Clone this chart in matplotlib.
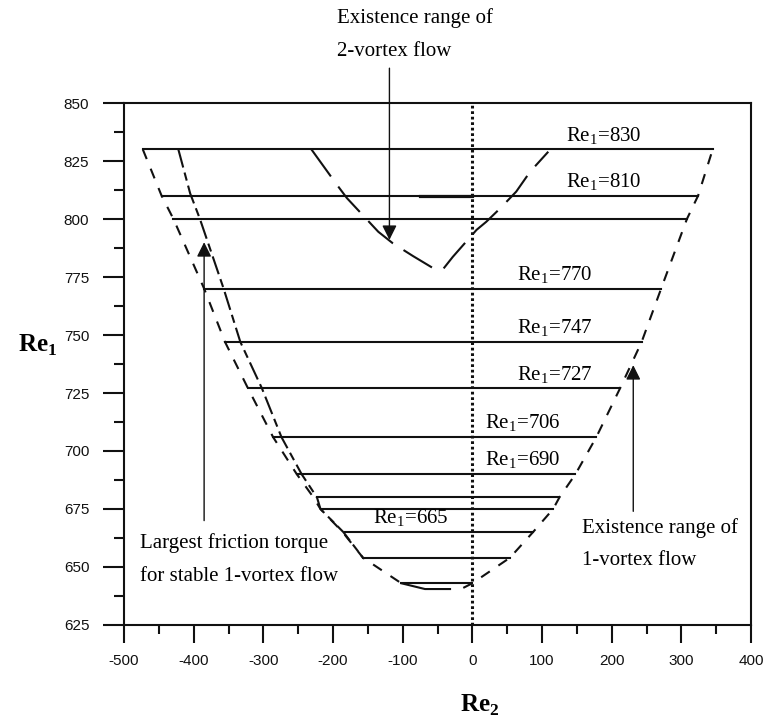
import numpy as np
import matplotlib
matplotlib.use("Agg")
import matplotlib.pyplot as plt
from matplotlib.ticker import MultipleLocator

plt.rcParams['font.family'] = ['Liberation Serif', 'DejaVu Serif']
plt.rcParams['mathtext.fontset'] = 'custom'
plt.rcParams['mathtext.rm'] = 'Liberation Serif'
plt.rcParams['mathtext.bf'] = 'Liberation Serif:bold'
plt.rcParams['axes.unicode_minus'] = False

# Re1 levels and where each horizontal line starts / ends in Re2
levels = [830, 810, 800, 770, 747, 727, 706, 690, 680, 675, 665, 654, 643]
left_end = [-473, -446, -429, -385, -355, -322, -286, -252, -223, -216, -183, -157, -102]
right_end = [345, 324, 308, 271, 243, 212, 178, 148, 125, 116, 87, 54, 0]
labelled = {830: 135, 810: 135, 770: 64, 747: 64, 727: 64, 706: 18, 690: 18, 665: -142}

# little hook at the bottom
hook_x = [-102, -68, -32]
hook_y = [643, 640.5, 640.5]

# existence range of 1-vortex flow (dashed boundary)
outer_left_x = [-473, -446, -429, -385, -355, -322, -286, -252, -228, -218, -186, -157, -132, -102]
outer_left_y = [830, 810, 800, 770, 747, 727, 706, 690, 680, 675, 665, 654, 649, 643]
outer_right_x = [-13, 0, 54, 87, 116, 125, 148, 178, 212, 243, 271, 308, 324, 345]
outer_right_y = [641, 643, 654, 665, 675, 680, 690, 706, 727, 747, 770, 800, 810, 830]

# largest friction torque for stable 1-vortex flow
fric_x = [-422, -405, -391, -357, -333, -302, -274, -245, -223, -218, -185, -157]
fric_y = [830, 811, 800, 770, 747, 727, 706, 690, 680, 675, 665, 654]

# existence range of 2-vortex flow
two_x = [-231, -195, -180, -135, -114, -85, -54, -42, -28, 6, 20, 40, 63, 83, 109]
two_y = [830, 815, 809, 794.5, 789.5, 784, 778.4, 778.4, 783.7, 795.3, 798.8, 804.6, 811.8, 820.4, 829]

fig = plt.figure(figsize=(7.64, 7.17), dpi=100)
ax = fig.add_axes([124/764, 1-625/717, (751-124)/764, (625-103)/717])

k = '#111111'
for lv, x0, x1 in zip(levels, left_end, right_end):
    ax.plot([x0, x1], [lv, lv], color=k, lw=1.5)
ax.plot([-75, 0], [810, 810], color=k, lw=2.3)
ax.plot(hook_x, hook_y, color=k, lw=1.5)

ax.plot(outer_left_x, outer_left_y, color=k, lw=1.5, dashes=(5, 5))
ax.plot(outer_right_x, outer_right_y, color=k, lw=1.5, dashes=(5, 5))
ax.plot(fric_x, fric_y, color=k, lw=1.5, dashes=(9, 2.5, 4, 2.5))
ax.plot(two_x, two_y, color=k, lw=1.5, dashes=(16, 6))

ax.axvline(0, color=k, lw=2.2, dashes=(0.9, 0.9))

for lv, xl in labelled.items():
    ax.annotate(r'Re$_{1}$=%d' % lv, (xl, lv), xytext=(0, 2), textcoords='offset points',
                fontsize=15, va='bottom', ha='left')

arrow = dict(arrowstyle='-|>', color=k, lw=1.0, mutation_scale=22, shrinkA=0, shrinkB=0)
ax.annotate('', xy=(-119, 791), xytext=(-119, 865), arrowprops=arrow, annotation_clip=False)
ax.annotate('', xy=(-385, 790), xytext=(-385, 670), arrowprops=arrow)
ax.annotate('', xy=(231, 737), xytext=(231, 674), arrowprops=arrow)

ax.text(-194, 886.5, 'Existence range of', fontsize=15, va='center', clip_on=False)
ax.text(-194, 872.3, '2-vortex flow', fontsize=15, va='center', clip_on=False)
ax.text(-477, 660.3, 'Largest friction torque', fontsize=15, va='center')
ax.text(-477, 645.7, 'for stable 1-vortex flow', fontsize=15, va='center')
ax.text(158, 666.8, 'Existence range of', fontsize=15, va='center')
ax.text(158, 653, '1-vortex flow', fontsize=15, va='center')

ax.set_xlim(-500, 400)
ax.set_ylim(625, 850)
ax.xaxis.set_major_locator(MultipleLocator(100))
ax.xaxis.set_minor_locator(MultipleLocator(50))
ax.yaxis.set_major_locator(MultipleLocator(25))
ax.yaxis.set_minor_locator(MultipleLocator(12.5))
ax.tick_params(which='both', direction='out', width=1.5, colors=k)
ax.tick_params(axis='y', which='major', length=15, pad=10)
ax.tick_params(axis='y', which='minor', length=7)
ax.tick_params(axis='x', which='major', length=13, pad=8)
ax.tick_params(axis='x', which='minor', length=6.5)
for lab in ax.get_xticklabels() + ax.get_yticklabels():
    lab.set_family('Liberation Sans')
    lab.set_fontsize(11)
for sp in ax.spines.values():
    sp.set_linewidth(1.5)
    sp.set_color(k)

fig.text(38/764, 1-345/717, r'$\mathbf{Re}_\mathbf{1}$', fontsize=18, ha='center', va='center')
fig.text(480/764, 1-705/717, r'$\mathbf{Re}_\mathbf{2}$', fontsize=18, ha='center', va='center')

fig.savefig('out.png', dpi=100)
